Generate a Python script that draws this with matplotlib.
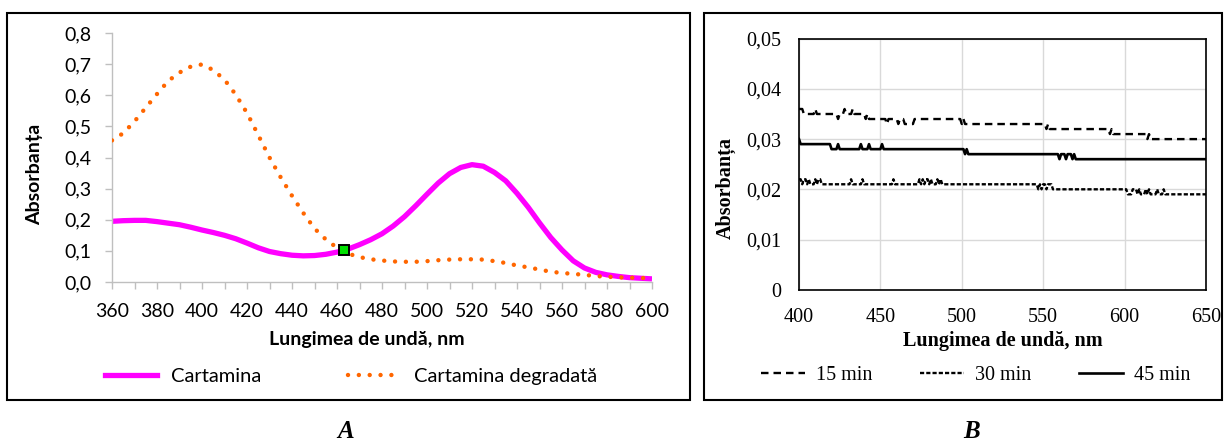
import matplotlib
matplotlib.use("Agg")
import numpy as np
import matplotlib.pyplot as plt
from matplotlib.patches import Rectangle
from matplotlib.lines import Line2D

plt.rcParams["lines.scale_dashes"] = False

# ---------------- Panel A data: carthamin spectra ----------------
wl_a = np.arange(360, 601, 5)
cartamina = [0.195, 0.197, 0.198, 0.198, 0.194, 0.189, 0.184, 0.176, 0.167, 0.159,
             0.150, 0.139, 0.125, 0.110, 0.098, 0.091, 0.086, 0.084, 0.085, 0.089,
             0.096, 0.106, 0.120, 0.136, 0.155, 0.180, 0.210, 0.245, 0.282, 0.318,
             0.348, 0.368, 0.377, 0.372, 0.352, 0.325, 0.285, 0.240, 0.190, 0.143,
             0.103, 0.068, 0.045, 0.031, 0.023, 0.018, 0.014, 0.012, 0.010]
cartamina_degradata = [0.455, 0.478, 0.516, 0.560, 0.604, 0.646, 0.673, 0.692, 0.699, 0.681,
                       0.650, 0.602, 0.543, 0.472, 0.400, 0.336, 0.277, 0.222, 0.172, 0.137,
                       0.110, 0.091, 0.080, 0.073, 0.069, 0.066, 0.065, 0.065, 0.067, 0.070,
                       0.072, 0.073, 0.073, 0.072, 0.067, 0.061, 0.053, 0.047, 0.040, 0.033,
                       0.029, 0.026, 0.023, 0.019, 0.017, 0.015, 0.014, 0.013, 0.012]
iso_point = (463, 0.103)
a_xticks = list(range(360, 601, 20))
a_yticks = [0.0, 0.1, 0.2, 0.3, 0.4, 0.5, 0.6, 0.7, 0.8]
a_yticklabels = ["0,0", "0,1", "0,2", "0,3", "0,4", "0,5", "0,6", "0,7", "0,8"]
a_labels = ["Cartamina", "Cartamina degradată"]

# ---------------- Panel B data: absorbance over time ----------------
wl_15 = [400, 402, 403, 409, 410, 411, 423, 424, 425, 427, 428, 429, 432, 433, 434, 440,
         441, 442, 443, 453, 454, 455, 460, 461, 462, 464, 465, 470, 471, 499, 500, 501,
         502, 551, 552, 553, 554, 590, 591, 592, 593, 613, 614, 615, 616, 650]
abs_15 = [0.036, 0.036, 0.035, 0.035, 0.036, 0.035, 0.035, 0.034, 0.035, 0.035, 0.036, 0.035,
          0.035, 0.036, 0.035, 0.035, 0.034, 0.035, 0.034, 0.034, 0.033, 0.034, 0.034, 0.033,
          0.034, 0.034, 0.033, 0.033, 0.034, 0.034, 0.033, 0.034, 0.033, 0.033, 0.032, 0.033,
          0.032, 0.032, 0.031, 0.032, 0.031, 0.031, 0.030, 0.031, 0.030, 0.030]

wl_30 = [400, 401, 402, 403, 404, 405, 406, 407, 409, 410, 411, 412, 413, 414, 431, 432,
         433, 438, 439, 440, 457, 458, 459, 473, 474, 475, 476, 477, 478, 479, 480, 481,
         482, 484, 485, 486, 487, 488, 546, 547, 548, 549, 550, 551, 552, 553, 555, 556,
         557, 601, 602, 604, 605, 607, 608, 609, 610, 612, 613, 614, 615, 616, 619, 620,
         621, 623, 624, 625, 650]
abs_30 = [0.022, 0.022, 0.021, 0.022, 0.022, 0.021, 0.022, 0.021, 0.021, 0.022, 0.021, 0.022,
          0.022, 0.021, 0.021, 0.022, 0.021, 0.021, 0.022, 0.021, 0.021, 0.022, 0.021, 0.021,
          0.022, 0.021, 0.022, 0.021, 0.022, 0.022, 0.021, 0.022, 0.021, 0.021, 0.022, 0.021,
          0.022, 0.021, 0.021, 0.020, 0.021, 0.020, 0.021, 0.021, 0.020, 0.021, 0.021, 0.020,
          0.020, 0.020, 0.019, 0.019, 0.020, 0.020, 0.019, 0.020, 0.019, 0.019, 0.020, 0.019,
          0.020, 0.019, 0.019, 0.020, 0.019, 0.019, 0.020, 0.019, 0.019]

wl_45 = [400, 401, 419, 420, 423, 424, 425, 437, 438, 439, 442, 443, 444, 450, 451, 452,
         501, 502, 503, 504, 559, 560, 561, 563, 564, 565, 567, 568, 569, 570, 650]
abs_45 = [0.030, 0.029, 0.029, 0.028, 0.028, 0.029, 0.028, 0.028, 0.029, 0.028, 0.028, 0.029,
          0.028, 0.028, 0.029, 0.028, 0.028, 0.027, 0.028, 0.027, 0.027, 0.026, 0.027, 0.027,
          0.026, 0.027, 0.027, 0.026, 0.027, 0.026, 0.026]

b_xticks = [400, 450, 500, 550, 600, 650]
b_yticks = [0, 0.01, 0.02, 0.03, 0.04, 0.05]
b_yticklabels = ["0", "0,01", "0,02", "0,03", "0,04", "0,05"]
b_labels = ["15 min", "30 min", "45 min"]

# ---------------- Figure layout (pixel helpers) ----------------
W, H = 1227, 445
fig = plt.figure(figsize=(W / 100, H / 100), dpi=100)


def fx(x):
    return x / W


def fy(y):
    return 1 - y / H


for x0, y0, x1, y1 in [(7, 13, 690, 400), (704, 13, 1222, 400)]:
    fig.patches.append(Rectangle((fx(x0), fy(y1)), (x1 - x0) / W, (y1 - y0) / H,
                                 transform=fig.transFigure, fill=False,
                                 edgecolor="black", lw=1.5))

SANS = "Lato"
SERIF = "Liberation Serif"

# ---------------- Panel A ----------------
axA = fig.add_axes([fx(112), fy(282), 540 / W, 249 / H])
MAG = "#FF00FF"
ORG = "#FF6600"
dot_style = (0, (0.01, 7.8))
axA.plot(wl_a, cartamina, color=MAG, lw=3.8, solid_capstyle="butt",
         solid_joinstyle="round", zorder=2)
axA.plot(wl_a, cartamina_degradata, color=ORG, lw=3.2, linestyle=dot_style,
         dash_capstyle="round", zorder=3)
axA.plot([iso_point[0]], [iso_point[1]], marker="s", ms=6.5, mfc="#00E000",
         mec="black", mew=1.4, zorder=4, clip_on=False)

axA.set_xlim(360, 600)
axA.set_ylim(0, 0.8)
for s in ("top", "right"):
    axA.spines[s].set_visible(False)
for s in ("left", "bottom"):
    axA.spines[s].set_color("#BFBFBF")
    axA.spines[s].set_linewidth(1.0)
axA.set_xticks(a_xticks)
axA.set_xticks(list(range(370, 600, 20)), minor=True)
axA.set_xticklabels([str(v) for v in a_xticks], fontfamily=SANS, fontsize=14)
axA.set_yticks(a_yticks)
axA.set_yticklabels(a_yticklabels, fontfamily=SANS, fontsize=14)
axA.tick_params(axis="both", which="both", direction="out", length=5,
                color="#BFBFBF", width=1.0)
axA.tick_params(axis="x", pad=10)
axA.tick_params(axis="y", pad=10)

fig.text(fx(367), fy(340), "Lungimea de undă, nm", ha="center", va="center",
         fontfamily=SANS, fontweight="bold", fontsize=14)
fig.text(fx(35), fy(174), "Absorbanța", ha="center", va="center", rotation=90,
         fontfamily=SANS, fontweight="bold", fontsize=14)

handlesA = [Line2D([], [], color=MAG, lw=3.8),
            Line2D([], [], color=ORG, lw=3.2, linestyle=dot_style, dash_capstyle="round")]
fig.legend(handlesA, a_labels, loc="center", bbox_to_anchor=(fx(351), fy(376)),
           ncol=2, frameon=False, prop={"family": SANS, "size": 14.5},
           handlelength=2.6, handletextpad=0.7, columnspacing=4.3)

fig.text(fx(346), fy(432), "A", ha="center", va="center", fontfamily=SERIF,
         fontweight="bold", fontstyle="italic", fontsize=18)

# ---------------- Panel B ----------------
axB = fig.add_axes([fx(799), fy(289.7), 407 / W, 251 / H])
style15 = (0, (5.4, 3.6))
style30 = (0, (3.0, 1.5))
axB.plot(wl_15, abs_15, color="black", lw=1.7, linestyle=style15)
axB.plot(wl_30, abs_30, color="black", lw=1.7, linestyle=style30)
axB.plot(wl_45, abs_45, color="black", lw=1.9)
axB.set_xlim(400, 650)
axB.set_ylim(0, 0.05)
axB.set_xticks(b_xticks)
axB.set_xticklabels([str(v) for v in b_xticks], fontfamily=SERIF, fontsize=14.5)
axB.set_yticks(b_yticks)
axB.set_yticklabels(b_yticklabels, fontfamily=SERIF, fontsize=14.5)
axB.tick_params(axis="both", length=0)
axB.tick_params(axis="x", pad=13)
axB.tick_params(axis="y", pad=13)
axB.grid(True, color="#D9D9D9", lw=1.0)
axB.set_axisbelow(True)
for s in axB.spines.values():
    s.set_color("black")
    s.set_linewidth(1.2)

fig.text(fx(1003), fy(341), "Lungimea de undă, nm", ha="center", va="center",
         fontfamily=SERIF, fontweight="bold", fontsize=14.5)
fig.text(fx(726), fy(188), "Absorbanța", ha="center", va="center", rotation=90,
         fontfamily=SERIF, fontweight="bold", fontsize=14.5)

handlesB = [Line2D([], [], color="black", lw=1.7, linestyle=style15),
            Line2D([], [], color="black", lw=1.7, linestyle=style30),
            Line2D([], [], color="black", lw=1.9)]
fig.legend(handlesB, b_labels, loc="center", bbox_to_anchor=(fx(975.5), fy(375)),
           ncol=3, frameon=False, prop={"family": SERIF, "size": 14.5},
           handlelength=2.2, handletextpad=0.55, columnspacing=2.35)

fig.text(fx(972), fy(432), "B", ha="center", va="center", fontfamily=SERIF,
         fontweight="bold", fontstyle="italic", fontsize=18)

fig.savefig("out.png", dpi=100)
